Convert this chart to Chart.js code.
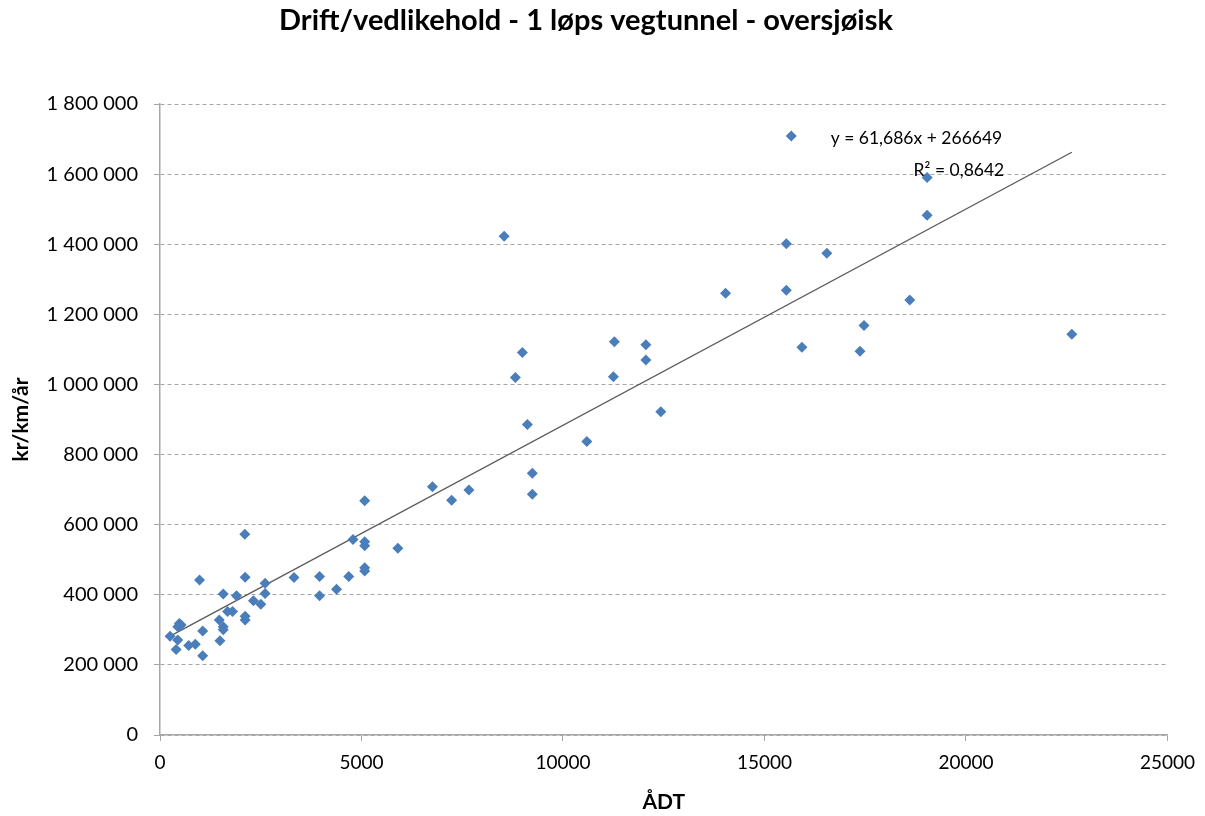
<!DOCTYPE html>
<html>
<head>
<meta charset="utf-8">
<script src="https://cdn.jsdelivr.net/npm/chart.js@4.4.1/dist/chart.umd.min.js"></script>
<style>
  body { margin: 0; background: #fff; }
  canvas { display: block; }
</style>
</head>
<body>
<canvas id="tunnelChart" width="1205" height="816"></canvas>
<script>
// ÅDT (x) and cost kr/km/år (y)
const adtValues = [
    250, 440, 400, 440, 524, 480, 712, 877, 981, 1059,
    1059, 1488, 1471, 1570, 1570, 1570, 1676, 1799, 1898, 2105,
    2113, 2113, 2113, 2318, 2501, 2608, 2608, 3325, 3959, 3959,
    4380, 4684, 4790, 5079, 5079, 5079, 5079, 5079, 5903, 6760,
    7237, 7666, 8539, 8819, 8992, 9116, 9239, 9239, 10591, 11250,
    11275, 12057, 12057, 12428, 14034, 15542, 15542, 15665, 15929, 16547,
    17371, 17470, 18606, 19036, 19036, 22627
];
const costValues = [
    282000, 271000, 244000, 309000, 314000, 318000, 255000, 259000, 442000, 297000,
    226000, 269000, 328000, 309000, 300000, 402000, 352000, 352000, 397000, 573000,
    450000, 339000, 328000, 383000, 373000, 433000, 404000, 449000, 452000, 397000,
    416000, 452000, 558000, 551000, 540000, 477000, 468000, 668000, 533000, 708000,
    670000, 699000, 1423000, 1020000, 1091000, 886000, 747000, 687000, 837000, 1022000,
    1122000, 1113000, 1070000, 922000, 1260000, 1401000, 1269000, 1709000, 1106000, 1374000,
    1095000, 1168000, 1241000, 1590000, 1483000, 1143000
];

// linear trend from the chart
const trendSlope = 61.686;
const trendIntercept = 266649;
const trendLabel = 'y = 61,686x + 266649';
const r2Label = 'R² = 0,8642';

const xTicks = [0, 5000, 10000, 15000, 20000, 25000];
const yTicks = [0, 200000, 400000, 600000, 800000, 1000000, 1200000, 1400000, 1600000, 1800000];

const points = adtValues.map((x, i) => ({ x: x, y: costValues[i] }));
const xMin = Math.min(...adtValues);
const xMax = Math.max(...adtValues);
const trendPoints = [
    { x: xMin, y: trendSlope * xMin + trendIntercept },
    { x: xMax, y: trendSlope * xMax + trendIntercept }
];

function spaced(v) {
    return String(v).replace(/\B(?=(\d{3})+(?!\d))/g, ' ');
}

const FONT = 'Lato, "Open Sans", sans-serif';

// equation text, placed in data coordinates
const equationPlugin = {
    id: 'equation',
    afterDatasetsDraw(chart) {
        const ctx = chart.ctx;
        const xs = chart.scales.x, ys = chart.scales.y;
        ctx.save();
        ctx.fillStyle = '#000';
        ctx.font = '17.5px ' + FONT;
        ctx.textAlign = 'right';
        ctx.textBaseline = 'middle';
        ctx.fillText(trendLabel, xs.getPixelForValue(20900), ys.getPixelForValue(1703000));
        ctx.fillText(r2Label, xs.getPixelForValue(20950), ys.getPixelForValue(1612000));
        ctx.restore();
    }
};

new Chart(document.getElementById('tunnelChart').getContext('2d'), {
    type: 'scatter',
    data: {
        datasets: [
            {
                label: 'Tunneler',
                data: points,
                pointStyle: 'rectRot',
                pointRadius: 5.5,
                backgroundColor: '#4a7ebb',
                borderColor: '#4a7ebb',
                borderWidth: 0
            },
            {
                type: 'line',
                label: 'Lineær',
                data: trendPoints,
                borderColor: '#5a5a5a',
                borderWidth: 1.3,
                pointRadius: 0,
                fill: false
            }
        ]
    },
    options: {
        responsive: false,
        animation: false,
        layout: { padding: { left: 0, right: 33, top: 0, bottom: 0 } },
        plugins: {
            legend: { display: false },
            tooltip: { enabled: false },
            title: {
                display: true,
                text: 'Drift/vedlikehold - 1 løps vegtunnel - oversjøisk',
                color: '#000',
                font: { family: FONT, size: 29, weight: 'bold' },
                padding: { top: 3, bottom: 66.2 }
            }
        },
        scales: {
            x: {
                type: 'linear',
                min: 0,
                max: 25000,
                afterBuildTicks: axis => { axis.ticks = xTicks.map(v => ({ value: v })); },
                afterFit: axis => { axis.height = 81; },
                ticks: {
                    color: '#000',
                    font: { family: FONT, size: 19 },
                    padding: 10,
                    maxRotation: 0,
                    callback: v => String(v)
                },
                grid: {
                    drawOnChartArea: false,
                    drawTicks: true,
                    tickLength: 6,
                    color: '#a6a6a6'
                },
                border: { color: '#a6a6a6', width: 1.5 },
                title: {
                    display: true,
                    text: 'ÅDT',
                    color: '#000',
                    font: { family: FONT, size: 21, weight: 'bold' },
                    padding: { top: 4, bottom: 1 }
                }
            },
            y: {
                type: 'linear',
                min: 0,
                max: 1800000,
                afterBuildTicks: axis => { axis.ticks = yTicks.map(v => ({ value: v })); },
                afterFit: axis => { axis.width = 160; },
                ticks: {
                    color: '#000',
                    font: { family: FONT, size: 20 },
                    padding: 16,
                    callback: v => spaced(v)
                },
                grid: {
                    color: '#a6a6a6',
                    tickBorderDash: [],
                    tickColor: '#a6a6a6',
                    tickLength: 6,
                    lineWidth: 1
                },
                border: { color: '#a6a6a6', width: 1.5, dash: [4, 3] },
                title: {
                    display: true,
                    text: 'kr/km/år',
                    color: '#000',
                    font: { family: FONT, size: 21, weight: 'bold' },
                    padding: { top: 9, bottom: 4 }
                }
            }
        }
    },
    plugins: [equationPlugin]
});
</script>
</body>
</html>
